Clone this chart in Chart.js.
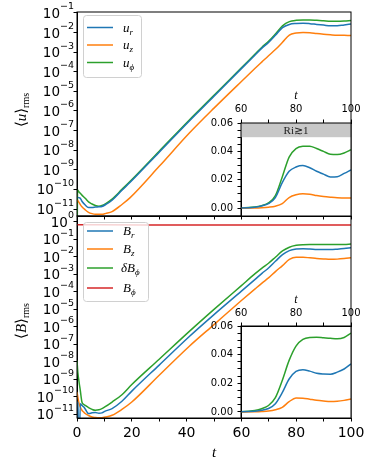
<!DOCTYPE html>
<html>
<head>
<meta charset="utf-8">
<script src="https://cdn.jsdelivr.net/npm/chart.js@4.4.1/dist/chart.umd.min.js"></script>
<style>
  body { margin: 0; background: #fff; }
  #wrap { position: relative; width: 374px; height: 470px; }
  #wrap canvas { position: absolute; left: 0; top: 0; }
</style>
</head>
<body>
<div id="wrap">
  <canvas id="uMain" width="374" height="470"></canvas>
  <canvas id="bMain" width="374" height="470"></canvas>
  <canvas id="uInset" width="374" height="470"></canvas>
  <canvas id="bInset" width="374" height="470"></canvas>
</div>
<script>
// ---- top panel: <u>_rms ----
const tU = [0, 0.2, 0.6, 1.2, 1.8, 3, 4.2, 5.5, 6.7, 8, 9.1, 10.5, 12.8, 16.4, 19.4, 30, 41, 50, 60, 65,
  67.5, 70, 72.5, 75, 77.5, 80, 82.5, 85, 87.5, 90, 92.5, 95, 97.5, 100];
const uR = [null, 4.0e-11, 3.8e-11, 3.5e-11, 2.5e-11, 1.6e-11, 1.2e-11, 1.2e-11, 1.25e-11, 1.3e-11, 1.35e-11, 1.7e-11,
  2.8e-11, 9e-11, 2.3e-10, 7.9e-9, 3.1e-7, 5.6e-6, 1.45e-4, 7.2e-4, 1.6e-3, 3.2e-3, 0.0075, 0.018, 0.026, 0.029,
  0.030, 0.0285, 0.026, 0.024, 0.022, 0.0222, 0.0245, 0.027];
const uZ = [null, 2.8e-11, 2.3e-11, 1.7e-11, 1.3e-11, 9.1e-12, 6.8e-12, 5.8e-12, 5.4e-12, 5.4e-12, 5.4e-12, 6.0e-12,
  7.4e-12, 1.7e-11, 3.8e-11, 1.5e-9, 7.5e-8, 1.4e-6, 3.2e-5, 1.5e-4, 3.2e-4, 6.8e-4, 0.0014, 0.0032, 0.0075, 0.0094,
  0.0101, 0.0099, 0.0089, 0.0082, 0.0077, 0.0073, 0.0072, 0.0071];
const uPhi = [1e-14, 9.3e-11, 7.9e-11, 6.3e-11, 5.1e-11, 3.5e-11, 2.3e-11, 1.8e-11, 1.5e-11, 1.4e-11, 1.5e-11, 1.9e-11,
  3.2e-11, 1.0e-10, 2.6e-10, 8.9e-9, 3.5e-7, 6.3e-6, 1.6e-4, 8e-4, 1.8e-3, 3.7e-3, 0.0088, 0.022, 0.036, 0.042,
  0.0436, 0.0437, 0.042, 0.040, 0.038, 0.0378, 0.0389, 0.0412];

// ---- bottom panel: <B>_rms ----
const tB = [0, 0.3, 0.7, 1.2, 1.8, 2.5, 3, 4.2, 5.5, 6.7, 8, 9.1, 10.3, 12.8, 16.4, 20, 30, 41, 50, 60,
  65, 67.5, 70, 72.5, 75, 77.5, 80, 82.5, 85, 87.5, 90, 92.5, 95, 97.5, 100];
const bR = [5e-11, 4.5e-11, 1e-14, 4e-11, 3.2e-11, 2.6e-11, 2e-11, 1.1e-11, 1.2e-11, 1.25e-11, 1.15e-11, 1.2e-11,
  1.5e-11, 2.1e-11, 5.5e-11, 2.1e-10, 6.5e-9, 2.8e-7, 5e-6, 1.1e-4, 5.2e-4, 1.15e-3, 0.0024, 0.0058, 0.0135,
  0.023, 0.0283, 0.0295, 0.0285, 0.027, 0.0265, 0.0264, 0.0278, 0.030, 0.0335];
const bZ = [1.9e-10, 1.0e-10, 4.5e-11, 2.6e-11, 1.7e-11, 1.3e-11, 1.1e-11, 8.5e-12, 6.9e-12, 6.5e-12, 6.3e-12, 6.3e-12,
  6.9e-12, 8.7e-12, 1.9e-11, 5e-11, 1.7e-9, 7.8e-8, 1.35e-6, 3.2e-5, 1.5e-4, 3.2e-4, 6.5e-4, 0.0015, 0.0032,
  0.0072, 0.0097, 0.0096, 0.0089, 0.0082, 0.0077, 0.0073, 0.0075, 0.0081, 0.0090];
const bPhiD = [1.2e-8, 2.5e-9, 8e-10, 2.3e-10, 5e-11, 3.6e-11, 3.2e-11, 2.4e-11, 1.9e-11, 1.7e-11, 1.8e-11, 2.1e-11,
  2.7e-11, 5e-11, 1.3e-10, 5e-10, 1.4e-8, 5.5e-7, 1.0e-5, 2.3e-4, 1.1e-3, 2.3e-3, 0.0045, 0.010, 0.022,
  0.036, 0.046, 0.0506, 0.052, 0.0522, 0.0518, 0.0514, 0.0511, 0.052, 0.055];
const tPhi = [0, 25, 50, 75, 100];
const bPhi = [0.69, 0.68, 0.68, 0.68, 0.67];

// ---- ticks (value + exponent label) ----
const uTicks = [1e-11, 1e-10, 1e-9, 1e-8, 1e-7, 1e-6, 1e-5, 1e-4, 1e-3, 1e-2, 1e-1];
const uTickExp = ['−11', '−10', '−9', '−8', '−7', '−6', '−5', '−4', '−3', '−2', '−1'];
const bTicks = [1e-11, 1e-10, 1e-9, 1e-8, 1e-7, 1e-6, 1e-5, 1e-4, 1e-3, 1e-2, 1e-1, 1];
const bTickExp = ['−11', '−10', '−9', '−8', '−7', '−6', '−5', '−4', '−3', '−2', '−1', '0'];
const insetYTicks = [0, 0.005, 0.01, 0.015, 0.02, 0.025, 0.03, 0.035, 0.04, 0.045, 0.05, 0.055, 0.06];
const insetYMajor = [0, 0.02, 0.04, 0.06];

const blue = '#1f77b4', orange = '#ff7f0e', green = '#2ca02c', red = '#d62728';
const MATH = '"Liberation Serif", "DejaVu Serif", serif';
const SANS = '"DejaVu Sans", sans-serif';

function line(t, v, color) {
  return {
    data: t.map((x, i) => ({ x: x, y: v[i] })),
    borderColor: color, borderWidth: 1.5, pointRadius: 0, fill: false,
    cubicInterpolationMode: 'monotone', spanGaps: false
  };
}

// draw a bit of math text: parts = [text, size, italic, dy]
function drawMath(ctx, parts, x, y, measureOnly) {
  let x0 = x;
  parts.forEach(p => {
    ctx.font = (p[2] ? 'italic ' : '') + p[1] + 'px ' + MATH;
    if (!measureOnly) ctx.fillText(p[0], x, y + (p[3] || 0));
    x += ctx.measureText(p[0]).width;
  });
  return x - x0;
}

const framePlugin = {
  id: 'frame',
  beforeDraw(chart, args, opts) {
    if (!opts.white) return;
    const a = chart.chartArea, ctx = chart.ctx;
    ctx.save();
    ctx.fillStyle = '#fff';
    ctx.fillRect(a.left, a.top, a.right - a.left, a.bottom - a.top);
    ctx.restore();
  },
  beforeDatasetsDraw(chart, args, opts) {
    if (!opts.band) return;
    const a = chart.chartArea, ctx = chart.ctx, y = chart.scales.y;
    ctx.save();
    ctx.fillStyle = '#c8c8c8';
    ctx.fillRect(a.left, y.getPixelForValue(0.06), a.right - a.left,
      y.getPixelForValue(0.05) - y.getPixelForValue(0.06));
    ctx.fillStyle = '#222';
    const ri = [['Ri', 11, false], ['≳', 11, false], ['1', 11, false]];
    const w = drawMath(ctx, ri, 0, 0, true);
    drawMath(ctx, ri, (a.left + a.right) / 2 - w / 2, y.getPixelForValue(0.055) + 4);
    ctx.restore();
  },
  afterDraw(chart, args, opts) {
    const a = chart.chartArea, ctx = chart.ctx;
    ctx.save();
    ctx.strokeStyle = '#000';
    ctx.lineWidth = 1;
    ctx.strokeRect(a.left, a.top, a.right - a.left, a.bottom - a.top);
    // log tick labels as 10 with a raised exponent
    if (opts.exps) {
      const sc = chart.scales.y;
      ctx.fillStyle = '#000';
      ctx.textBaseline = 'alphabetic';
      ctx.textAlign = 'left';
      opts.vals.forEach((v, i) => {
        const py = sc.getPixelForValue(v);
        ctx.font = '9.5px ' + SANS;
        const we = ctx.measureText(opts.exps[i]).width;
        ctx.font = '13.5px ' + SANS;
        const wb = ctx.measureText('10').width;
        const xr = a.left - 3;
        ctx.fillText('10', xr - we - wb, py + 5);
        ctx.font = '9.5px ' + SANS;
        ctx.fillText(opts.exps[i], xr - we, py - 3.5);
      });
    }
    ctx.restore();
  }
};

function panelPlugin(box, items, ylab, ylabY) {
  return {
    id: 'panel',
    afterDatasetsDraw(chart) {
      const ctx = chart.ctx;
      ctx.save();
      ctx.beginPath();
      if (ctx.roundRect) ctx.roundRect(box[0] + 0.5, box[1] + 0.5, box[2], box[3], 3);
      else ctx.rect(box[0] + 0.5, box[1] + 0.5, box[2], box[3]);
      ctx.fillStyle = 'rgba(255,255,255,0.8)';
      ctx.fill();
      ctx.strokeStyle = '#d0d0d0';
      ctx.lineWidth = 1;
      ctx.stroke();
      items.forEach(it => {
        ctx.strokeStyle = it.color;
        ctx.lineWidth = 1.5;
        ctx.beginPath();
        ctx.moveTo(box[0] + 4, it.y);
        ctx.lineTo(box[0] + 30, it.y);
        ctx.stroke();
        ctx.fillStyle = '#000';
        drawMath(ctx, it.label, box[0] + it.dx, it.y + 4);
      });
      // rotated y label
      ctx.translate(26, ylabY);
      ctx.rotate(-Math.PI / 2);
      ctx.fillStyle = '#000';
      const w = drawMath(ctx, ylab, 0, 0, true);
      drawMath(ctx, ylab, -w / 2, 0);
      ctx.restore();
    }
  };
}

function mainChart(id, datasets, yMin, yMax, yTicks, yExps, padTop, padBottom, xHeight, showX, plugin) {
  return new Chart(document.getElementById(id), {
    type: 'line',
    data: { datasets: datasets },
    options: {
      responsive: false, animation: false, events: [],
      layout: { padding: { left: 0, right: 23, top: padTop, bottom: padBottom } },
      plugins: { legend: { display: false }, tooltip: { enabled: false }, frame: { vals: yTicks, exps: yExps } },
      scales: {
        x: {
          type: 'linear', min: 0, max: 100, position: 'bottom',
          ticks: {
            stepSize: 10, display: showX, autoSkip: false, maxRotation: 0, padding: 3,
            color: '#000', font: { family: SANS, size: 14 },
            callback: v => (v % 20 === 0 ? String(v) : '')
          },
          grid: { drawOnChartArea: false, tickLength: 3.5, color: '#000', tickColor: '#000' },
          border: { color: '#000' },
          title: {
            display: showX, text: 't', color: '#000',
            font: { family: MATH, style: 'italic', size: 15 }, padding: { top: 0, bottom: 8 }
          },
          afterFit: s => { s.height = xHeight; }
        },
        y: {
          type: 'logarithmic', min: yMin, max: yMax,
          afterBuildTicks: s => { s.ticks = yTicks.map(v => ({ value: v })); },
          afterFit: s => { s.width = 77; },
          ticks: { autoSkip: false, padding: 0, callback: () => '' },
          grid: { drawOnChartArea: false, tickLength: 3.5, color: '#000', tickColor: '#000' },
          border: { color: '#000' }
        }
      }
    },
    plugins: [framePlugin, plugin]
  });
}

function insetChart(id, datasets, top, bottom, yMin, band, labPad, titlePad) {
  return new Chart(document.getElementById(id), {
    type: 'line',
    data: { datasets: datasets },
    options: {
      responsive: false, animation: false, events: [],
      layout: { padding: { left: 0, right: 23, top: top - 40, bottom: 470 - bottom } },
      plugins: { legend: { display: false }, tooltip: { enabled: false }, frame: { white: true, band: band } },
      scales: {
        x: {
          type: 'linear', min: 60, max: 100, position: 'top',
          ticks: {
            stepSize: 10, autoSkip: false, maxRotation: 0, padding: labPad,
            color: '#000', font: { family: SANS, size: 10 },
            callback: v => (v % 20 === 0 ? String(v) : '')
          },
          grid: { drawOnChartArea: false, tickLength: 3.5, color: '#000', tickColor: '#000' },
          border: { color: '#000' },
          title: {
            display: true, text: 't', color: '#000',
            font: { family: MATH, style: 'italic', size: 12 }, padding: { top: titlePad, bottom: 0 }
          },
          afterFit: s => { s.height = 40; }
        },
        y: {
          type: 'linear', min: yMin, max: 0.06,
          afterBuildTicks: s => { s.ticks = insetYTicks.map(v => ({ value: v })); },
          afterFit: s => { s.width = 241; },
          ticks: {
            autoSkip: false, padding: 4.5, color: '#000', font: { family: SANS, size: 10 },
            callback: v => (insetYMajor.includes(v) ? v.toFixed(2) : '')
          },
          grid: { drawOnChartArea: false, tickLength: 3.5, color: '#000', tickColor: '#000' },
          border: { color: '#000' }
        }
      }
    },
    plugins: [framePlugin]
  });
}

const uLegend = panelPlugin([83, 15, 58, 62], [
  { color: blue, y: 27.5, dx: 40, label: [['u', 13, true], ['r', 9, true, 3]] },
  { color: orange, y: 45, dx: 40, label: [['u', 13, true], ['z', 9, true, 3]] },
  { color: green, y: 62.5, dx: 40, label: [['u', 13, true], ['ϕ', 9, true, 3]] }
], [['⟨', 15, false], ['u', 15, true], ['⟩', 15, false], ['rms', 10, false, 3]], 110);

const bLegend = panelPlugin([83, 222, 65, 79], [
  { color: blue, y: 231, dx: 40, label: [['B', 13, true], ['r', 9, true, 3]] },
  { color: orange, y: 249, dx: 40, label: [['B', 13, true], ['z', 9, true, 3]] },
  { color: green, y: 268, dx: 38, label: [['δB', 13, true], ['ϕ', 9, true, 3]] },
  { color: red, y: 288, dx: 40, label: [['B', 13, true], ['ϕ', 9, true, 3]] }
], [['⟨', 15, false], ['B', 15, true], ['⟩', 15, false], ['rms', 10, false, 3]], 321);

mainChart('uMain', [line(tU, uR, blue), line(tU, uZ, orange), line(tU, uPhi, green)],
  4.4e-12, 0.112, uTicks, uTickExp, 12, 244, 10, false, uLegend);
mainChart('bMain', [line(tB, bR, blue), line(tB, bZ, orange), line(tB, bPhiD, green), line(tPhi, bPhi, red)],
  6.1e-12, 2.2, bTicks, bTickExp, 216, 0, 52, true, bLegend);
insetChart('uInset', [line(tU, uR, blue), line(tU, uZ, orange), line(tU, uPhi, green)],
  123, 216, -0.0055, true, 4.5, 6);
insetChart('bInset', [line(tB, bR, blue), line(tB, bZ, orange), line(tB, bPhiD, green)],
  326, 418, -0.0042, false, 3.5, 7);
</script>
</body>
</html>
